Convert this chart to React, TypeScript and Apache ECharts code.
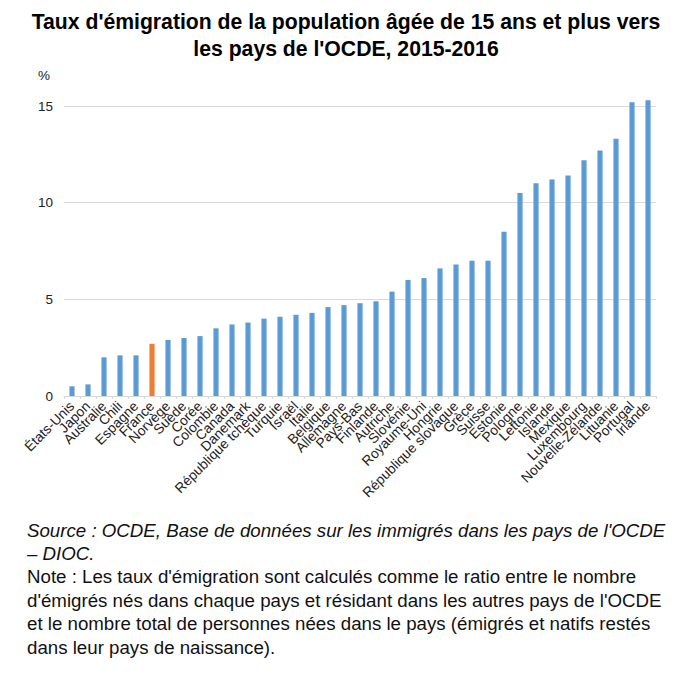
import React, { useEffect, useRef } from "react";
import * as echarts from "echarts";

const categories = [
  "États-Unis", "Japon", "Australie", "Chili", "Espagne", "France", "Norvège", "Suède",
  "Corée", "Colombie", "Canada", "Danemark", "République tchèque", "Turquie", "Israël",
  "Italie", "Belgique", "Allemagne", "Pays-Bas", "Finlande", "Autriche", "Slovénie",
  "Royaume-Uni", "Hongrie", "République slovaque", "Grèce", "Suisse", "Estonie", "Pologne",
  "Lettonie", "Islande", "Mexique", "Luxembourg", "Nouvelle-Zélande", "Lituanie",
  "Portugal", "Irlande",
];

const values = [
  0.5, 0.6, 2.0, 2.1, 2.1, 2.7, 2.9, 3.0, 3.1, 3.5, 3.7, 3.8, 4.0, 4.1, 4.2, 4.3, 4.6,
  4.7, 4.8, 4.9, 5.4, 6.0, 6.1, 6.6, 6.8, 7.0, 7.0, 8.5, 10.5, 11.0, 11.2, 11.4, 12.2,
  12.7, 13.3, 15.2, 15.3,
];

const highlighted = ["France"];

const titleLines = [
  "Taux d'émigration de la population âgée de 15 ans et plus vers",
  "les pays de l'OCDE, 2015-2016",
];

const sourceLines = [
  "Source : OCDE, Base de données sur les immigrés dans les pays de l'OCDE",
  "– DIOC.",
];

const noteLines = [
  "Note : Les taux d'émigration sont calculés comme le ratio entre le nombre",
  "d'émigrés nés dans chaque pays et résidant dans les autres pays de l'OCDE",
  "et le nombre total de personnes nées dans le pays (émigrés et natifs restés",
  "dans leur pays de naissance).",
];

const yTicks = { min: 0, max: 15, interval: 5 };

const BLUE = "#5b9bd5";
const ORANGE = "#ed7d31";
const FONT = "'Liberation Sans', Arial, sans-serif";

export default function App() {
  const ref = useRef<HTMLDivElement>(null);

  useEffect(() => {
    document.body.style.margin = "0";
    if (!ref.current) return;
    const chart = echarts.init(ref.current, undefined, { renderer: "svg" });

    const textEl = (text: string, x: number, y: number, opts: any = {}) => ({
      type: "text",
      x,
      y,
      style: {
        text,
        fontFamily: FONT,
        fontSize: opts.fontSize ?? 16,
        fontWeight: opts.fontWeight ?? "normal",
        fontStyle: opts.fontStyle ?? "normal",
        fill: opts.fill ?? "#000",
        align: opts.align ?? "left",
        textAlign: opts.align ?? "left",
        verticalAlign: "middle",
        textVerticalAlign: "middle",
      },
    });

    const graphics: any[] = [];
    titleLines.forEach((t, i) =>
      graphics.push(textEl(t, 346, 21 + i * 27, { fontSize: 21.2, fontWeight: "bold", align: "center" }))
    );
    graphics.push(textEl("%", 38, 75, { fontSize: 13.5, fill: "#222" }));
    const footLines = [...sourceLines, ...noteLines];
    footLines.forEach((t, i) =>
      graphics.push(
        textEl(t, 27, 530 + i * 23.4, {
          fontSize: 18.7,
          fontStyle: i < sourceLines.length ? "italic" : "normal",
          fill: "#111",
        })
      )
    );

    chart.setOption({
      animation: false,
      grid: { left: 64, right: 34, top: 106, bottom: 280 },
      xAxis: {
        type: "category",
        data: categories,
        axisLine: { lineStyle: { color: "#d9d9d9", width: 1 } },
        axisTick: { show: true, length: 3, lineStyle: { color: "#d9d9d9" } },
        axisLabel: {
          interval: 0,
          rotate: 45,
          fontSize: 13.8,
          fontFamily: FONT,
          color: "#222",
          margin: 8,
        },
      },
      yAxis: {
        type: "value",
        min: yTicks.min,
        max: yTicks.max,
        interval: yTicks.interval,
        axisLine: { show: false },
        axisTick: { show: false },
        splitLine: { lineStyle: { color: "#d9d9d9", width: 1 } },
        axisLabel: { fontSize: 13.5, fontFamily: FONT, color: "#222", margin: 11 },
      },
      series: [
        {
          type: "bar",
          clip: false,
          barWidth: "32%",
          data: values.map((v, i) =>
            highlighted.includes(categories[i])
              ? { value: v, itemStyle: { color: ORANGE } }
              : { value: v, itemStyle: { color: BLUE } }
          ),
        },
      ],
      graphic: graphics,
    });

    return () => chart.dispose();
  }, []);

  return <div ref={ref} style={{ width: 690, height: 676 }} />;
}
